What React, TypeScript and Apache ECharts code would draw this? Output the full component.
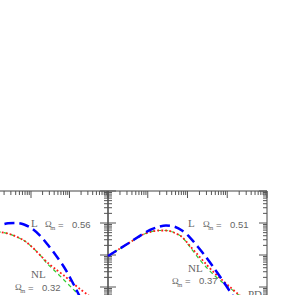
import React, { useEffect, useRef } from "react";
import * as echarts from "echarts";

// ---------- data (k in h/Mpc, P(k)) ----------
// Left panel
const leftLinK = [0.00861, 0.01567, 0.0253, 0.0407, 0.0658, 0.1062, 0.1714, 0.2768, 0.4458, 0.7195, 1.03, 1.475, 2.113];
const leftLinP = [6980, 8660, 9790, 10000, 8980, 6730, 4060, 2050, 964, 422, 198, 86.6, 36.5];
const leftNLK = [0.00861, 0.01567, 0.0253, 0.0407, 0.0658, 0.1062, 0.1714, 0.2768, 0.4458, 0.7195, 1.161, 1.874, 3.024, 4.88];
const leftNLP = [5830, 5230, 4690, 3790, 2840, 1780, 1000, 562, 352, 229, 138, 86.6, 56.2, 36.5];
const leftPDK = [0.00861, 0.01567, 0.0253, 0.0407, 0.0658, 0.1062, 0.1714, 0.2768, 0.4458, 0.7195, 1.161, 1.874, 2.382];
const leftPDP = [5830, 5230, 4690, 3790, 2840, 1780, 1000, 505, 294, 166, 93, 52.3, 39.3];
// Right panel
const rightLinK = [0.001, 0.002004, 0.004017, 0.007166, 0.01139, 0.01811, 0.02878, 0.04575, 0.07272, 0.1156, 0.1837, 0.292, 0.4642, 0.7378, 1.173, 1.66];
const rightLinP = [930, 1597, 2738, 4375, 6040, 7500, 8350, 7780, 5830, 3520, 1778, 866, 392, 171, 72.3, 36.5];
const rightNLK = [0.001, 0.002004, 0.004017, 0.007166, 0.01139, 0.01811, 0.02878, 0.04575, 0.07272, 0.1156, 0.1837, 0.292, 0.4642, 0.7378, 1.173, 1.864, 2.638];
const rightNLP = [930, 1597, 2738, 4217, 5230, 5830, 5830, 5050, 3650, 1911, 1000, 523, 284, 166, 100, 60.4, 42.2];
const rightPDK = [0.001, 0.002004, 0.004017, 0.007166, 0.01139, 0.01811, 0.02878, 0.04575, 0.07272, 0.1156, 0.1837, 0.292, 0.4642, 0.7378, 1.173, 1.864, 2.638];
const rightPDP = [930, 1597, 2738, 4217, 5230, 5830, 5830, 5050, 3650, 1778, 835, 422, 237, 143, 93, 58.3, 42.2];

// axis ranges / log decades
const xDecades = [0.001, 0.01, 0.1, 1, 10];
const yDecades = [1, 10, 100, 1000, 10000, 100000];
const minorMult = [2, 3, 4, 5, 6, 7, 8, 9];
const X_MIN = 0.001, X_MAX = 10, Y_MIN = 1, Y_MAX = 100000;

// labels
const omegaLeft = ["0.56", "0.32"];
const omegaRight = ["0.51", "0.37"];

const pairs = (k: number[], p: number[]) => k.map((v, i) => [v, p[i]]);

function tickData(leftDir: number, rightDir: number) {
  const d: number[][] = [];
  for (const dec of xDecades) {
    if (dec <= X_MAX) d.push([dec, Y_MAX, 0, 7]);
    for (const m of minorMult) {
      const v = dec * m;
      if (v < X_MAX) d.push([v, Y_MAX, 0, 4]);
    }
  }
  for (const dec of yDecades) {
    const items = [[dec, 8]];
    for (const m of minorMult) if (dec * m < Y_MAX) items.push([dec * m, 4]);
    for (const [v, len] of items) {
      d.push([X_MIN, v, leftDir, len]);
      d.push([X_MAX, v, rightDir, len]);
    }
  }
  return d;
}

const TICK = "#555";
const TXT = "#666";
const SERIF = "'Liberation Serif', 'DejaVu Serif', serif";
const SANS = "'Liberation Sans', Arial, sans-serif";
const OX = 60; // chart div offset

export default function App() {
  const ref = useRef<HTMLDivElement>(null);
  useEffect(() => {
    if (!ref.current) return;
    const chart = echarts.init(ref.current, undefined, { renderer: "svg" });

    const tickSeries = (gi: number) => ({
      type: "custom",
      xAxisIndex: gi,
      yAxisIndex: gi,
      clip: false,
      silent: true,
      encode: { x: 0, y: 1 },
      data: tickData(1, 2),
      renderItem: (params: any, api: any) => {
        const c = api.coord([api.value(0), api.value(1)]);
        const dir = api.value(2);
        const len = api.value(3);
        let x2 = c[0], y2 = c[1];
        if (dir === 0) y2 += len;
        else if (dir === 1) x2 += len;
        else x2 -= len;
        return {
          type: "line",
          shape: { x1: c[0], y1: c[1], x2, y2 },
          style: { stroke: TICK, lineWidth: 1 },
        };
      },
    });

    const lineS = (gi: number, k: number[], p: number[], kind: string) => {
      const style: any =
        kind === "L"
          ? { color: "#0000ff", width: 2.5, type: [10, 5] }
          : kind === "NL"
          ? { color: "#ff1a1a", width: 1.8, type: [1.8, 2.2] }
          : { color: "#33cc33", width: 1.2, type: [4, 3] };
      return {
        type: "line",
        xAxisIndex: gi,
        yAxisIndex: gi,
        data: pairs(k, p),
        showSymbol: false,
        smooth: 0.3,
        lineStyle: style,
        z: kind === "L" ? 4 : kind === "NL" ? 3 : 2,
      };
    };

    const txt = (x: number, y: number, text: string, font: string) => ({
      type: "text",
      x: x + OX,
      y,
      silent: true,
      style: {
        text,
        fill: TXT,
        font,
        align: "left",
        verticalAlign: "middle",
        textAlign: "left",
        textVerticalAlign: "middle",
      },
    });
    const omega = (xO: number, y: number, val: string) => [
      txt(xO, y, "Ω", `9px ${SERIF}`),
      txt(xO + 5.3, y + 3.5, "m", `6.5px ${SERIF}`),
      txt(xO + 13, y, "=", `9.5px ${SANS}`),
      txt(xO + 27, y, val, `9.5px ${SANS}`),
    ];

    const axisCommon = {
      axisLine: { show: false },
      axisTick: { show: false },
      axisLabel: { show: false },
      splitLine: { show: false },
    };

    chart.setOption({
      animation: false,
      backgroundColor: "#fff",
      grid: [
        { left: 14, top: 191, width: 154, height: 160, show: true, borderColor: "#444", borderWidth: 1, outerBoundsMode: "none", containLabel: false },
        { left: 168, top: 191, width: 159, height: 160, show: true, borderColor: "#444", borderWidth: 1, outerBoundsMode: "none", containLabel: false },
      ],
      xAxis: [0, 1].map((gi) => ({ type: "log", logBase: 10, gridIndex: gi, min: X_MIN, max: X_MAX, ...axisCommon })),
      yAxis: [0, 1].map((gi) => ({ type: "log", logBase: 10, gridIndex: gi, min: Y_MIN, max: Y_MAX, ...axisCommon })),
      series: [
        tickSeries(0),
        tickSeries(1),
        lineS(0, leftPDK, leftPDP, "PD"),
        lineS(0, leftNLK, leftNLP, "NL"),
        lineS(0, leftLinK, leftLinP, "L"),
        lineS(1, rightPDK, rightPDP, "PD"),
        lineS(1, rightNLK, rightNLP, "NL"),
        lineS(1, rightLinK, rightLinP, "L"),
      ],
      graphic: [
        txt(31, 223, "L", `11px ${SERIF}`),
        ...omega(45, 224, omegaLeft[0]),
        txt(31, 273.5, "NL", `11px ${SERIF}`),
        ...omega(15, 287, omegaLeft[1]),
        txt(188, 223, "L", `11px ${SERIF}`),
        ...omega(203, 224, omegaRight[0]),
        txt(188, 267.5, "NL", `11px ${SERIF}`),
        ...omega(172, 280.5, omegaRight[1]),
        txt(248, 294, "PD", `11px ${SERIF}`),
      ],
    });
    return () => chart.dispose();
  }, []);

  return (
    <div style={{ position: "fixed", left: 0, top: 0, width: 288, height: 295, overflow: "hidden", background: "#fff" }}>
      <div ref={ref} style={{ position: "absolute", left: -OX, top: 0, width: 360, height: 400 }} />
    </div>
  );
}
